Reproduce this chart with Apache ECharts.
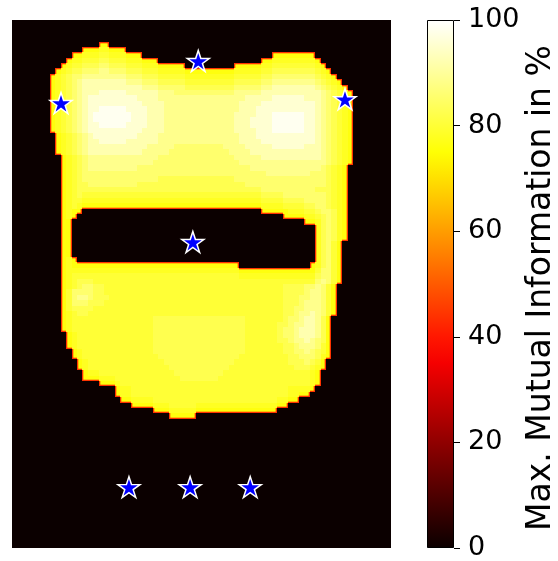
<!DOCTYPE html>
<html>
<head>
<meta charset="utf-8">
<script src="https://cdn.jsdelivr.net/npm/echarts/dist/echarts.min.js"></script>
<style>
html,body{margin:0;padding:0;background:#fff;}
#c{width:558px;height:561px;}
</style>
</head>
<body>
<div id="c"></div>
<script>
// ---------------- DATA ----------------
const NCOLS = 70;
const NROWS = 98;
// Level code (0..9) -> Max. Mutual Information in %
const levelValues = [0, 76, 78, 80, 82.5, 85.5, 88.5, 92, 95.5, 98.5];
// First image row that contains the high-information region
const blobRowStart = 4;
// Row codes: "@c" = start column, "d*k" = k cells of level d, digit strings = consecutive cell levels
const rowCodes = [
  '@16 11',
  '@13 11122111',
  '@11 1122233222111 @48 1*8',
  '@10 12233344333222111 @46 11222222221',
  '@9 12334445544433322211111 @41 11111223333333321',
  '@8 1234455566555444333 2*5 1*9 2*5 33 4*8 321',
  '@7 12345566666666555444 3*5 2*9 3*5 44 5*8 4321',
  '@7 123456 7*8 666 555 4*5 3*9 4*5 55 6*8 54321',
  '@7 123456 7*11 666 5*5 4*9 5*5 66 7*8 654321',
  '@7 1234567 77 8*5 7*6 666 5*11 6*5 77 7*8 7 654321',
  '@7 1234567 8*9 7*4 6*16 7*5 8*6 7*3 654321',
  '@7 1234567 8*10 7*4 6*14 7*4 8*10 7654321',
  '@7 12345678 8 9*5 8*4 7*3 6*14 7*3 8*11 7654321',
  '@7 12345678 9*7 8*3 7*3 6*13 7*4 8*3 9*6 88 7654321',
  '@7 12345678 9*7 8*3 7*3 6*13 7*3 8*4 9*6 88 7654321',
  '@7 12345678 8 9*5 8*4 7*3 6*13 7*3 8*4 9*6 88 7654321',
  '@7 1234567 8*10 7*4 6*13 7*4 8*3 9*6 88 7654321',
  '@8 12345678 8*7 7*4 6*15 7*3 8*11 7654321',
  '@8 1234567 7 8*5 7*6 6*15 7*4 8*10 7654321',
  '@8 1234567 7*10 6*5 5*9 6*4 7*5 8*6 7*3 654321',
  '@8 1234567 7*9 6*5 5*11 6*4 7*13 654321',
  '@9 123456 6*12 5*14 6*5 7*10 7654321',
  '@9 12345 6*12 5*16 6*16 54321',
  '@9 12345 6*9 5*21 6*13 54321',
  '@9 1234 5*34 6*8 5*3 4321',
  '@9 1234 5*14 4*14 5*17 4321',
  '@9 1234 4 5*9 4*20 5*15 4321',
  '@9 123 4*34 5*10 444 321',
  '@9 1234 3*33 4*4 5*8 4321',
  '@9 1233 2*33 3*4 4*4 55 554321',
  '@9 1232 1*33 2*4 3*4 44 554321',
  '@9 1211 @46 1111122233455421',
  '@9 121 @50 111122345421',
  '@9 11 @54 11245421',
  '@9 11 @56 245421',
  '@9 11 @56 245421',
  '@9 11 @56 245421',
  '@9 11 @56 24531',
  '@9 11 @56 24531',
  '@9 11 @56 24531',
  '@9 121 @56 24531',
  '@9 12 1*31 @55 124531',
  '@9 12 2*31 1*13 135531',
  '@9 123 3*30 2*13 245531',
  '@9 1234443 3*39 356531',
  '@9 1234554 4 3*33 4*4 556531',
  '@9 1355554 4 3*33 4*4 566531',
  '@9 1356654 44 3*32 444 5566531',
  '@9 1355544 4 3*33 444 5666531',
  '@9 1344443 3*34 4455666531',
  '@9 12344 3*36 4456676531',
  '@9 123 3*14 4*17 3*7 455677641',
  '@9 12 3*15 4*17 3*6 4456677641',
  '@9 12 3*15 4*17 3*6 4556777641',
  '@10 12 3*14 4*17 3*6 4556777641',
  '@10 12 3*14 4*17 3*6 4456676541',
  '@10 12 3*14 4*17 3*7 445666531',
  '@11 12 3*13 4*17 3*7 445565431',
  '@11 12 3*14 4*15 3*9 44555421',
  '@12 12 3*14 4*13 3*10 4445431',
  '@12 12 3*15 4*11 3*12 444321',
  '@13 122 3*14 4*9 3*15 321',
  '@13 111 222 3*12 4*7 3*16 321',
  '@16 1112 3*35 21',
  '@19 122 3*29 2222 1',
  '@19 122 3*29 22 11',
  '@20 11 2222 3*23 22 11',
  '@22 1111 222 33333 2*15 11',
  '@26 111 22222 1*15',
  '@29 11111'
];
// Sensor positions (image cell units)
const sensorX = [9.05, 34.4, 61.5, 33.4, 21.6, 32.9, 44.0];
const sensorY = [15.4, 7.6, 14.7, 41.2, 86.7, 86.7, 86.7];
// Colour bar ticks
const cbarTicks = [0, 20, 40, 60, 80, 100];
const cbarTitle = 'Max. Mutual Information in %';
// 'hot' colour map, stops every 5 %
const hotStops = ['#0b0000','#2c0000','#4e0000','#6f0000','#900000','#b20000','#d30000','#f50000',
  '#ff1700','#ff3900','#ff5a00','#ff7c00','#ff9d00','#ffbf00','#ffe000','#ffff04','#ffff36',
  '#ffff68','#ffff9b','#ffffcd','#ffffff'];

// ---------------- BUILD ----------------
function decodeRow(code) {
  const cells = new Array(NCOLS).fill(0);
  let col = 0;
  (code || '').split(/\s+/).filter(Boolean).forEach(function (tok) {
    if (tok[0] === '@') { col = parseInt(tok.slice(1), 10); }
    else if (tok.indexOf('*') >= 0) {
      const p = tok.split('*'); const d = +p[0]; const k = +p[1];
      for (let i = 0; i < k; i++) cells[col++] = d;
    } else {
      for (const ch of tok) cells[col++] = +ch;
    }
  });
  return cells;
}
const colCats = [], rowCats = [];
for (let c = 0; c < NCOLS; c++) colCats.push(String(c));
for (let r = 0; r < NROWS; r++) rowCats.push(String(r));
const levelGrid = [];
const heatData = [];
for (let r = 0; r < NROWS; r++) {
  const cells = decodeRow(rowCodes[r - blobRowStart]);
  levelGrid.push(cells);
  for (let c = 0; c < NCOLS; c++) heatData.push([c, r, levelValues[cells[c]]]);
}
function isOutside(r, c) {
  if (r < 0 || r >= NROWS || c < 0 || c >= NCOLS) return true;
  return levelGrid[r][c] === 0;
}
const stars = sensorX.map(function (x, i) { return [x, sensorY[i]]; });
const starPath = 'path://M100,0 L122.45,69.1 L195.1,69.1 L136.33,111.8 L158.8,180.9 L100,138.2 L41.2,180.9 L63.67,111.8 L4.9,69.1 L77.55,69.1 Z';
const gradStops = hotStops.map(function (col, i) { return { offset: i / (hotStops.length - 1), color: col }; });

function renderCell(params, api) {
  const c = api.value(0), r = api.value(1);
  const p = api.coord([c, r]);
  const sz = api.size([1, 1]);
  const x0 = Math.round(p[0] - sz[0] / 2), x1 = Math.round(p[0] + sz[0] / 2);
  const y0 = Math.round(p[1] - sz[1] / 2), y1 = Math.round(p[1] + sz[1] / 2);
  const children = [{
    type: 'rect', shape: { x: x0, y: y0, width: x1 - x0, height: y1 - y0 },
    style: { fill: api.visual('color') }
  }];
  if (!isOutside(r, c)) {
    const es = { stroke: '#ff3300', lineWidth: 1.3 };
    const o = 0.65;
    if (isOutside(r, c - 1)) children.push({ type: 'line', shape: { x1: x0 + o, y1: y0, x2: x0 + o, y2: y1 }, style: es });
    if (isOutside(r, c + 1)) children.push({ type: 'line', shape: { x1: x1 - o, y1: y0, x2: x1 - o, y2: y1 }, style: es });
    if (isOutside(r - 1, c)) children.push({ type: 'line', shape: { x1: x0, y1: y0 + o, x2: x1, y2: y0 + o }, style: es });
    if (isOutside(r + 1, c)) children.push({ type: 'line', shape: { x1: x0, y1: y1 - o, x2: x1, y2: y1 - o }, style: es });
  }
  return { type: 'group', children: children };
}

const chart = echarts.init(document.getElementById('c'), null, { renderer: 'canvas' });
const imgBox = { left: 12, top: 20, width: 379, height: 528, containLabel: false, outerBoundsMode: 'none' };
chart.setOption({
  animation: false,
  backgroundColor: '#ffffff',
  grid: [
    Object.assign({}, imgBox),
    Object.assign({}, imgBox),
    { left: 427, top: 20, width: 27, height: 528, containLabel: false, outerBoundsMode: 'none' }
  ],
  xAxis: [
    { gridIndex: 0, type: 'category', data: colCats, show: false },
    { gridIndex: 1, type: 'value', min: 0, max: NCOLS, show: false },
    { gridIndex: 2, type: 'category', data: [''], show: false }
  ],
  yAxis: [
    { gridIndex: 0, type: 'category', data: rowCats, inverse: true, show: false },
    { gridIndex: 1, type: 'value', min: 0, max: NROWS, inverse: true, show: false },
    {
      gridIndex: 2, type: 'value', position: 'right',
      min: cbarTicks[0], max: cbarTicks[cbarTicks.length - 1], interval: cbarTicks[1] - cbarTicks[0],
      axisLine: { show: false },
      axisTick: { show: true, inside: false, length: 6, lineStyle: { color: '#000', width: 1 } },
      axisLabel: { show: true, fontSize: 27, fontFamily: 'DejaVu Sans', color: '#000', margin: 14 },
      splitLine: { show: false }
    }
  ],
  visualMap: {
    type: 'continuous', show: false, min: 0, max: 100, dimension: 2, seriesIndex: 0,
    inRange: { color: hotStops }
  },
  series: [
    {
      type: 'custom', xAxisIndex: 0, yAxisIndex: 0, data: heatData,
      encode: { x: 0, y: 1 }, renderItem: renderCell,
      progressive: 0, silent: true, clip: true
    },
    {
      type: 'scatter', xAxisIndex: 1, yAxisIndex: 1, data: stars,
      symbol: starPath, symbolSize: [22, 21], z: 5, silent: true,
      itemStyle: { color: '#0000ff', borderColor: '#ffffff', borderWidth: 1.5, opacity: 1 }
    },
    {
      type: 'bar', xAxisIndex: 2, yAxisIndex: 2, data: [cbarTicks[cbarTicks.length - 1]],
      barWidth: '100%', silent: true,
      itemStyle: { color: new echarts.graphic.LinearGradient(0, 1, 0, 0, gradStops), borderColor: '#000', borderWidth: 1 }
    }
  ],
  graphic: [
    {
      type: 'text', x: 541, y: 288, rotation: Math.PI / 2, silent: true,
      style: {
        text: cbarTitle, font: '33px "DejaVu Sans"', fill: '#000',
        align: 'center', verticalAlign: 'middle', textAlign: 'center', textVerticalAlign: 'middle'
      }
    }
  ]
});
</script>
</body>
</html>
